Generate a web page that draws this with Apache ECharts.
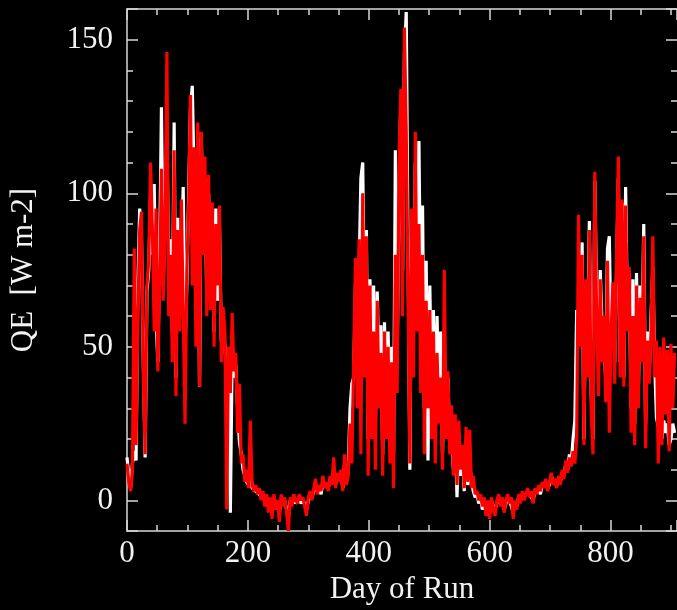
<!DOCTYPE html>
<html>
<head>
<meta charset="utf-8">
<title>QE - Day of Run</title>
<script src="https://cdn.jsdelivr.net/npm/echarts@6/dist/echarts.min.js"></script>
<style>
	html, body { margin: 0; padding: 0; background: #000; }
	#qechart { width: 677px; height: 610px; }
</style>
</head>
<body>
<div id="qechart"></div>
<script>
// one value every 3 days, day 0 .. 906
var dayStep = 3

// white run
var whiteQE = [
	14,8,4,12,16,13,70,95,85,45,
	14,68,75,100,80,103,60,45,80,128,
	70,95,120,75,85,55,123,40,92,60,
	80,102,50,70,100,128,135,105,60,120,
	37,118,85,105,65,100,70,90,55,95,
	65,90,52,58,50,40,45,-4,48,40,
	44,30,19,15,10,8,6,5,12,4,
	4,3,3,2,1,2,0,1,-2,0,
	-3,1,-1,-2,-4,0,-1,0,-3,-5,
	0,-1,1,-1,0,1,-1,0,-1,-3,
	0,2,1,3,5,3,4,2,6,5,
	5,4,7,6,10,5,8,7,9,4,
	12,6,10,30,38,40,70,45,75,105,
	110,60,88,20,72,35,70,25,68,40,
	57,15,58,30,55,25,50,15,114,45,
	100,130,75,145,159,80,10,90,55,110,
	70,117,60,96,30,78,13,70,35,62,
	20,60,30,55,15,50,25,40,18,23,
	10,22,1,20,8,15,3,18,5,12,
	6,3,1,2,-1,1,-3,0,-4,-1,
	-4,0,-2,-3,-1,1,-1,0,-3,-1,
	1,0,0,-4,-1,-2,1,0,2,1,
	1,3,2,2,0,3,3,4,2,5,
	5,6,4,5,8,6,6,5,7,6,
	9,8,12,10,15,12,20,26,62,60,
	70,84,20,70,50,91,35,20,104,66,
	45,75,57,50,40,82,86,50,66,45,
	75,105,45,97,40,102,60,74,30,72,
	25,74,35,70,50,90,25,55,40,60,
	76,45,27,24,40,20,26,22,25,18,
	20,25,22
]

// red run
var redQE = [
	12,6,3,10,82,18,60,88,94,40,
	15,70,78,110,88,55,95,42,70,108,
	65,90,146,60,80,45,114,34,88,55,
	98,60,25,75,95,132,70,115,50,123,
	37,120,80,112,60,106,62,97,50,90,
	70,96,45,63,55,-3,50,35,61,42,
	48,22,38,12,15,6,10,4,26,5,
	3,5,2,4,0,3,-2,2,-4,1,
	-6,2,-3,0,-7,2,-2,1,-4,-10,
	1,-2,2,0,-1,2,0,1,-2,-5,
	1,3,0,4,7,2,5,3,8,4,
	6,3,8,5,14,4,9,6,10,3,
	15,5,8,25,12,45,79,30,85,15,
	100,40,86,8,70,20,55,10,65,30,
	48,8,55,20,50,12,45,4,80,35,
	110,134,60,154,120,70,12,95,40,120,
	55,90,35,80,15,65,30,62,20,55,
	12,48,25,40,10,75,20,42,15,31,
	8,28,5,26,10,18,4,24,6,23,
	4,8,2,3,0,2,-2,1,-5,0,
	-6,1,-3,-5,0,2,-2,1,-4,0,
	2,-1,1,-6,0,-3,2,-1,3,0,
	2,4,1,3,-1,4,2,5,3,6,
	4,7,3,6,9,5,7,4,8,5,
	10,7,13,9,14,11,16,12,20,93,
	50,80,18,72,40,88,30,15,107,60,
	34,72,45,60,32,78,22,55,71,38,
	80,112,40,98,37,96,55,76,22,60,
	18,70,30,66,45,86,17,52,38,55,
	86,40,52,12,50,18,53,28,49,16,
	51,30,48
]

var dayRange = [0, 910]
var qeRange = [-10, 160]

function toPairs(arr){
	return arr.map(function(v, i){ return [i * dayStep, v] })
}

var axisColor = '#d8d8d8'
var textColor = '#f2f2f2'
var fontFam = 'Liberation Serif'

function boxAxis(pos, range, split, minorSplit, showLabel, extra){
	var ax = {
		type: 'value',
		position: pos,
		min: range[0],
		max: range[1],
		splitNumber: split,
		// right frame line falls just outside the picture
		axisLine: { show: pos != 'right', onZero: false, lineStyle: { color: axisColor, width: 1.5 } },
		axisTick: { show: true, inside: true, length: 11, lineStyle: { color: axisColor, width: 1.5 } },
		minorTick: { show: true, splitNumber: minorSplit, length: 6, lineStyle: { color: axisColor, width: 1.5 } },
		splitLine: { show: false },
		minorSplitLine: { show: false },
		axisLabel: {
			show: showLabel,
			color: textColor,
			fontFamily: fontFam,
			fontSize: 31,
			margin: (pos == 'bottom') ? 7 : 14,
			showMinLabel: pos == 'bottom',
			showMaxLabel: false
		}
	}
	for (var k in extra) ax[k] = extra[k]
	return ax
}

var myChart = echarts.init(document.getElementById('qechart'), null, { renderer: 'canvas' })

myChart.setOption({
	backgroundColor: '#000',
	animation: false,
	grid: { left: 126, top: 9, width: 555, height: 528 },
	xAxis: [
		boxAxis('bottom', dayRange, 5, 4, true, {
			name: 'Day of Run',
			nameLocation: 'middle',
			nameGap: 37,
			nameTextStyle: { color: textColor, fontFamily: fontFam, fontSize: 31 }
		}),
		boxAxis('top', dayRange, 5, 4, false, {})
	],
	yAxis: [
		boxAxis('left', qeRange, 4, 5, true, {
			name: 'QE  [W m-2]',
			nameLocation: 'middle',
			nameGap: 88,
			nameTextStyle: { color: textColor, fontFamily: fontFam, fontSize: 31 }
		}),
		boxAxis('right', qeRange, 4, 5, false, {})
	],
	series: [
		{
			name: 'white',
			type: 'line',
			showSymbol: false,
			symbol: 'none',
			lineStyle: { color: '#ffffff', width: 3.2 },
			data: toPairs(whiteQE)
		},
		{
			name: 'red',
			type: 'line',
			showSymbol: false,
			symbol: 'none',
			lineStyle: { color: '#ff0000', width: 3.2 },
			data: toPairs(redQE)
		}
	]
})
</script>
</body>
</html>
